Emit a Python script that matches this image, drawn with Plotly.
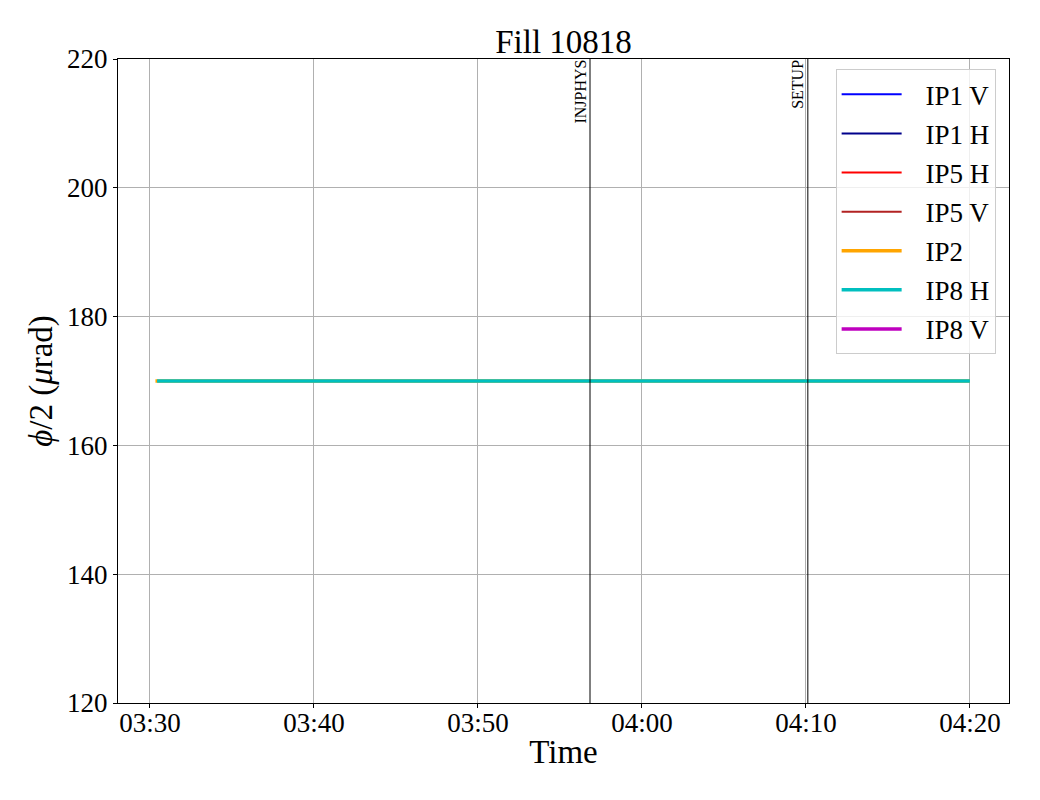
import plotly.graph_objects as go
import pandas as pd

title = "Fill 10818"
series_names = ["IP1 V", "IP1 H", "IP5 H", "IP5 V", "IP2", "IP8 H", "IP8 V"]
series_colors = ["#0000ff", "#00008b", "#ff0000", "#b22222", "#ffa500", "#00bfbf", "#bf00bf"]
series_widths = [2, 2, 2, 2, 3.5, 3.5, 3.5]

# times and values (IP1/IP5/IP8 V have no data in this fill)
ip2_times = ["2024-06-20 03:30:20", "2024-06-20 04:20:00"]
ip2_values = [170, 170]
ip8h_times = ["2024-06-20 03:30:26", "2024-06-20 04:20:00"]
ip8h_values = [170, 170]

mode_times = ["2024-06-20 03:56:50", "2024-06-20 04:10:07"]
mode_labels = ["INJPHYS", "SETUP"]

x_range = ["2024-06-20 03:28:03", "2024-06-20 04:22:23"]
y_range = [120, 220]
x_ticks = ["2024-06-20 03:30", "2024-06-20 03:40", "2024-06-20 03:50",
           "2024-06-20 04:00", "2024-06-20 04:10", "2024-06-20 04:20"]
x_tick_labels = ["03:30", "03:40", "03:50", "04:00", "04:10", "04:20"]
y_ticks = [120, 140, 160, 180, 200, 220]

data = {
    "IP2": (ip2_times, ip2_values),
    "IP8 H": (ip8h_times, ip8h_values),
}

fig = go.Figure()
for name, color, w in zip(series_names, series_colors, series_widths):
    if name in data:
        xs, ys = data[name]
        xs = pd.to_datetime(xs)
    else:
        xs, ys = [None], [None]
    fig.add_trace(go.Scatter(
        x=xs, y=ys,
        mode="lines", name="\u00a0\u00a0\u2009" + name, legendgroup=name,
        line=dict(color=color, width=w),
    ))

font_family = "Liberation Serif, Times New Roman, serif"

for t, lab in zip(mode_times, mode_labels):
    fig.add_shape(type="line", xref="x", yref="paper", x0=t, x1=t, y0=0, y1=1,
                  line=dict(color="black", width=1))
    fig.add_annotation(x=t, xref="x", y=1, yref="paper", text=lab, textangle=-90,
                       showarrow=False, xanchor="right", yanchor="top",
                       font=dict(size=16, color="black", family=font_family),
                       xshift=-1, borderpad=0)

fig.update_layout(
    width=1040, height=800,
    margin=dict(l=110, r=39, t=51, b=105),
    paper_bgcolor="white", plot_bgcolor="white",
    font=dict(family=font_family, size=27, color="black"),
    title=dict(text=title, x=0.5, xref="paper", xanchor="center",
               y=0.973, yref="container", yanchor="top",
               font=dict(size=33, family=font_family)),
    legend=dict(x=0.985, xanchor="right", y=0.984, yanchor="top",
                bgcolor="rgba(255,255,255,0.8)", bordercolor="#cccccc", borderwidth=1,
                font=dict(size=27, family=font_family), tracegroupgap=1,
                itemwidth=60),
    showlegend=True,
)
fig.update_xaxes(
    type="date",
    range=x_range, tickvals=x_ticks, ticktext=x_tick_labels,
    title=dict(text="Time", font=dict(size=33), standoff=2),
    showgrid=True, gridcolor="#b0b0b0", gridwidth=1,
    showline=True, linecolor="black", linewidth=1, mirror=True,
    ticks="outside", ticklen=4, tickcolor="black", zeroline=False,
    ticklabelstandoff=-8,
)
fig.update_yaxes(
    range=y_range, tickvals=y_ticks,
    title=dict(text="<i>ϕ</i>/2 (<i>μ</i>rad)", font=dict(size=33), standoff=4),
    showgrid=True, gridcolor="#b0b0b0", gridwidth=1,
    showline=True, linecolor="black", linewidth=1, mirror=True,
    ticks="outside", ticklen=4, tickcolor="black", zeroline=False,
)

fig.write_html("out.html")
